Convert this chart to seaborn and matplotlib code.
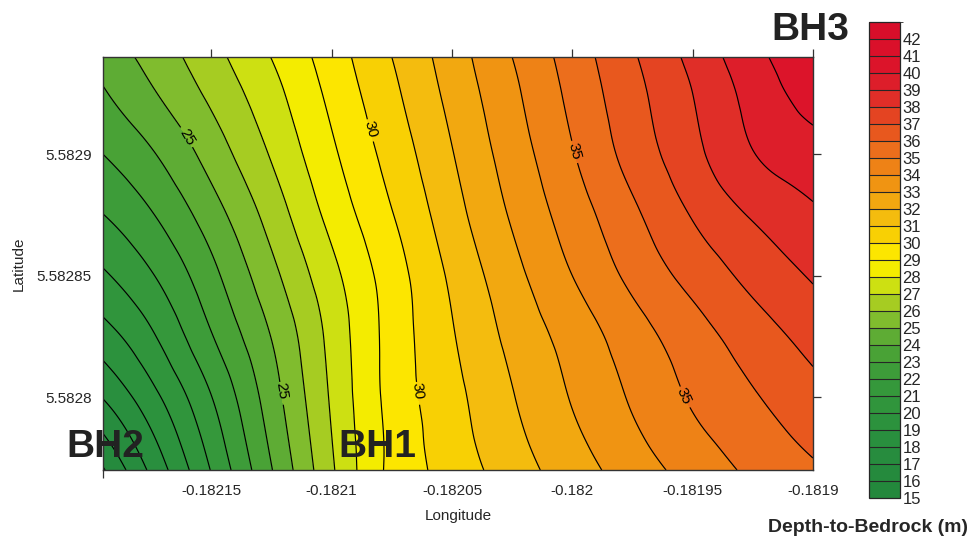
import numpy as np
import matplotlib
matplotlib.use("Agg")
import matplotlib.pyplot as plt
import matplotlib.tri as mtri
from matplotlib.colors import ListedColormap, BoundaryNorm
import seaborn as sns

# grid nodes (longitude / latitude) and depth-to-bedrock
longitude = [-0.182195, -0.182175, -0.18215, -0.182125, -0.1821, -0.182075, -0.18205,
             -0.182025, -0.182, -0.181975, -0.18195, -0.181925, -0.1819]
latitude = [5.58277, 5.5828, 5.582825, 5.58285, 5.582875, 5.5829, 5.582925, 5.58294]

depth_5_58277 = [15.9, 18.2, 21.05, 23.95, 26.85, 29.24, 30.42, 31.51, 32.53, 33.49, 34.38, 35.2, 35.85]
depth_5_5828 = [18.05, 19.65, 21.97, 24.53, 27.13, 29.33, 30.7, 31.94, 33.07, 34.12, 35.12, 35.91, 36.66]
depth_5_582825 = [19.56, 20.84, 22.93, 25.03, 27.31, 29.38, 30.92, 32.27, 33.4, 34.54, 35.57, 36.5, 37.37]
depth_5_58285 = [20.85, 21.91, 23.7, 25.7, 27.7, 29.51, 31.18, 32.67, 34.0, 35.25, 36.33, 37.29, 38.1]
depth_5_582875 = [21.98, 22.92, 24.53, 26.4, 28.31, 29.95, 31.59, 33.11, 34.48, 35.8, 37.07, 38.1, 38.84]
depth_5_5829 = [23.0, 23.89, 25.41, 27.09, 28.82, 30.38, 31.95, 33.47, 34.93, 36.38, 37.71, 38.96, 39.6]
depth_5_582925 = [23.9, 24.87, 26.22, 27.66, 29.25, 30.77, 32.3, 33.78, 35.26, 36.67, 38.0, 39.37, 40.4]
depth_5_58294 = [24.4, 25.33, 26.64, 28.02, 29.5, 31.0, 32.5, 34.0, 35.45, 36.88, 38.28, 39.68, 40.7]

levels = list(range(15, 44))
labelled_levels = [25, 30, 35]
x_ticks = [-0.18215, -0.1821, -0.18205, -0.182, -0.18195, -0.1819]
y_ticks = [5.5828, 5.58285, 5.5829]

# one colour per 1 m band, 15-16 ... 42-43
band_colors = ["#23883c", "#258a3d", "#278c3e", "#298f3e", "#2c923d", "#30953c", "#35983b",
               "#3d9c39", "#49a236", "#5eac34", "#80bc2e", "#a6cc22", "#cde012", "#f4ec00",
               "#fce600", "#f8d004", "#f4bc0e", "#f2a810", "#f09412", "#ee8216", "#ec6e1c",
               "#e8581e", "#e44422", "#e02e28", "#dd1e2a", "#dc142a", "#da102a", "#d80e2a"]

sns.set_style("white")
plt.rcParams["font.family"] = ["Liberation Sans", "DejaVu Sans"]

Z = np.array([depth_5_58277, depth_5_5828, depth_5_582825, depth_5_58285,
              depth_5_582875, depth_5_5829, depth_5_582925, depth_5_58294])
LON, LAT = np.meshgrid(longitude, latitude)
ny, nx = Z.shape
triangles = []
for j in range(ny - 1):
    for i in range(nx - 1):
        a = j * nx + i
        triangles.append([a, a + 1, a + nx + 1])
        triangles.append([a, a + nx + 1, a + nx])
tri = mtri.Triangulation(LON.ravel(), LAT.ravel(), triangles)
tri_fine, z_fine = mtri.UniformTriRefiner(tri).refine_field(Z.ravel(), subdiv=4)

cmap = ListedColormap(sns.color_palette(band_colors))
norm = BoundaryNorm(levels, cmap.N)

fig = plt.figure(figsize=(9.74, 5.4), dpi=100)
ax = fig.add_axes([0.1057, 0.1296, 0.729, 0.7648])

cf = ax.tricontourf(tri_fine, z_fine, levels=levels, cmap=cmap, norm=norm)
plain_levels = [v for v in levels[1:-1] if v not in labelled_levels]
ax.tricontour(tri_fine, z_fine, levels=plain_levels, colors="black", linewidths=0.85)
cs = ax.tricontour(tri_fine, z_fine, levels=labelled_levels, colors="black", linewidths=0.85)
label_spots = [(-0.1821618, 5.5829062), (-0.1821207, 5.5828025),
               (-0.1820833, 5.5829103), (-0.1820633, 5.5828025),
               (-0.1819997, 5.5829012), (-0.181954, 5.5828004)]
ax.clabel(cs, manual=label_spots, fmt="%d", fontsize=11, inline_spacing=3)

ax.set_xlim(longitude[0], longitude[-1])
ax.set_ylim(latitude[0], latitude[-1])
ax.set_xticks(x_ticks)
ax.set_xticklabels([f"{v:g}" for v in x_ticks])
ax.set_yticks(y_ticks)
ax.set_yticklabels([f"{v:g}" for v in y_ticks])
ax.set_xticks([longitude[0]], minor=True)
ax.tick_params(which="major", direction="out", length=6, width=0.9, top=True, right=True,
               labeltop=False, labelright=False, labelsize=11, color="#333333")
ax.tick_params(axis="x", which="major", pad=4)
ax.tick_params(axis="y", which="major", pad=2)
ax.tick_params(which="minor", direction="out", length=6, width=0.9, bottom=True, top=False,
               color="#333333")
for s in ax.spines.values():
    s.set_color("#333333")
    s.set_linewidth(1.0)
ax.set_xlabel("Longitude", fontsize=11, labelpad=8)
ax.set_ylabel("Latitude", fontsize=11, labelpad=8)

# borehole names
bh_style = dict(fontsize=28, fontweight="bold", color="#222222", ha="center", va="baseline",
                clip_on=False)
ax.text(-0.1821942, 5.5827753, "BH2", **bh_style)
ax.text(-0.1820808, 5.5827753, "BH1", **bh_style)
ax.text(-0.1819012, 5.5829469, "BH3", **bh_style)

cax = fig.add_axes([0.892, 0.0778, 0.0318, 0.8815])
cb = fig.colorbar(cf, cax=cax, ticks=levels[:-1], drawedges=True)
cb.ax.tick_params(length=0, pad=2, labelsize=12)
cb.outline.set_linewidth(0.9)
cb.dividers.set_linewidth(0.8)
fig.text(0.891, 0.0148, "Depth-to-Bedrock (m)", ha="center", va="baseline",
         fontsize=14, fontweight="bold")

fig.savefig("out.png", dpi=100)
